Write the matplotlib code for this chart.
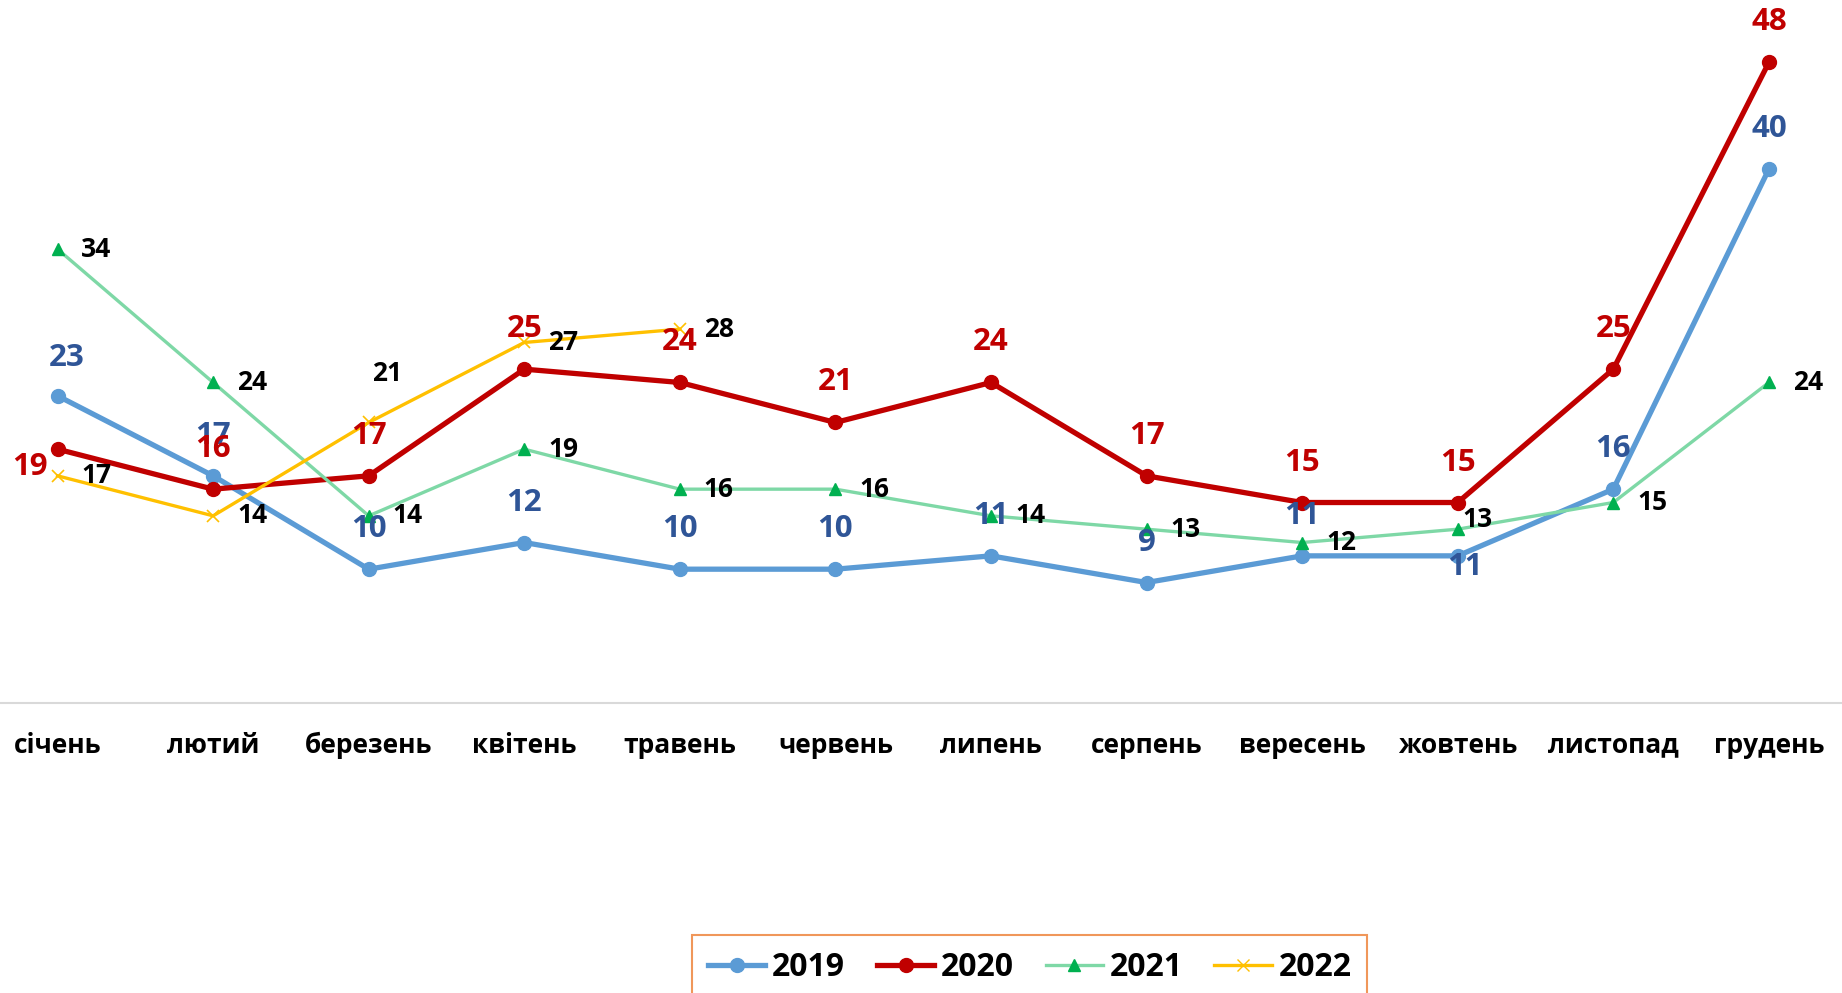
import matplotlib.pyplot as plt
from matplotlib.lines import Line2D

plt.rcParams['font.family'] = ['Open Sans', 'DejaVu Sans']

months = ['січень', 'лютий', 'березень', 'квітень', 'травень', 'червень',
          'липень', 'серпень', 'вересень', 'жовтень', 'листопад', 'грудень']
v2019 = [23, 17, 10, 12, 10, 10, 11, 9, 11, 11, 16, 40]
v2020 = [19, 16, 17, 25, 24, 21, 24, 17, 15, 15, 25, 48]
v2021 = [34, 24, 14, 19, 16, 16, 14, 13, 12, 13, 15, 24]
v2022 = [17, 14, 21, 27, 28]

fig = plt.figure(figsize=(18.42, 9.93), dpi=100)
ax = fig.add_axes([0, 0.2925, 1, 0.6715])

x = list(range(12))
ax.plot(x, v2019, color='#5B9BD5', lw=3.8, marker='o', ms=10, zorder=3, label='2019')
ax.plot(x, v2020, color='#C00000', lw=3.8, marker='o', ms=10, zorder=4, label='2020')
ax.plot(x, v2021, color='#7ED8A6', lw=2.4, marker='^', ms=9, mfc='#00B050', mec='#00B050', zorder=5, label='2021')
ax.plot(x[:len(v2022)], v2022, color='#FFC000', lw=2.4, marker='x', ms=9, mew=1.2, zorder=6, label='2022')

# підписи значень
def lbl(xs, ys, color, size, offs):
    for i, (xi, yi) in enumerate(zip(xs, ys)):
        dx, dy = offs.get(i, offs['d'])
        ax.annotate(str(yi), (xi, yi), xytext=(dx, dy), textcoords='offset pixels',
                    ha='center', va='center', color=color, fontsize=size,
                    fontweight='bold', zorder=10)

lbl(x, v2019, '#2F5597', 22.5, {'d': (0, 40), 0: (9, 38), 9: (7, -11)})
lbl(x, v2020, '#C00000', 22.5, {'d': (0, 40), 0: (-28, -18)})
lbl(x, v2021, 'black', 19, {'d': (39, 0), 9: (20, 10)})
lbl(x[:len(v2022)], v2022, 'black', 19, {'d': (39, 0), 2: (18, 49)})

ax.set_xlim(-0.37, 11.47)
ax.set_ylim(0, 50)
ax.set_xticks(x)
ax.set_xticklabels(months, fontsize=19, fontweight='bold')
ax.tick_params(axis='x', length=0, pad=21)
ax.set_yticks([])
for s in ['top', 'left', 'right']:
    ax.spines[s].set_visible(False)
ax.spines['bottom'].set_color('#D9D9D9')
ax.spines['bottom'].set_linewidth(1.5)
ax.patch.set_visible(False)

handles = [
    Line2D([], [], color='#5B9BD5', lw=3.8, marker='o', ms=10),
    Line2D([], [], color='#C00000', lw=3.8, marker='o', ms=10),
    Line2D([], [], color='#7ED8A6', lw=2.4, marker='^', ms=9, mfc='#00B050', mec='#00B050'),
    Line2D([], [], color='#FFC000', lw=2.4, marker='x', ms=9),
]
leg = fig.legend(handles, ['2019', '2020', '2021', '2022'], loc='upper center',
                 bbox_to_anchor=(0.559, 0.074), ncol=4, frameon=True, fancybox=False,
                 prop={'size': 23, 'weight': 'bold'}, handlelength=1.8,
                 handletextpad=0.2, columnspacing=1.0, borderpad=0.5)
leg.get_frame().set_edgecolor('#ED7D31')
leg.get_frame().set_linewidth(1.5)

fig.savefig('out.png', dpi=100)
